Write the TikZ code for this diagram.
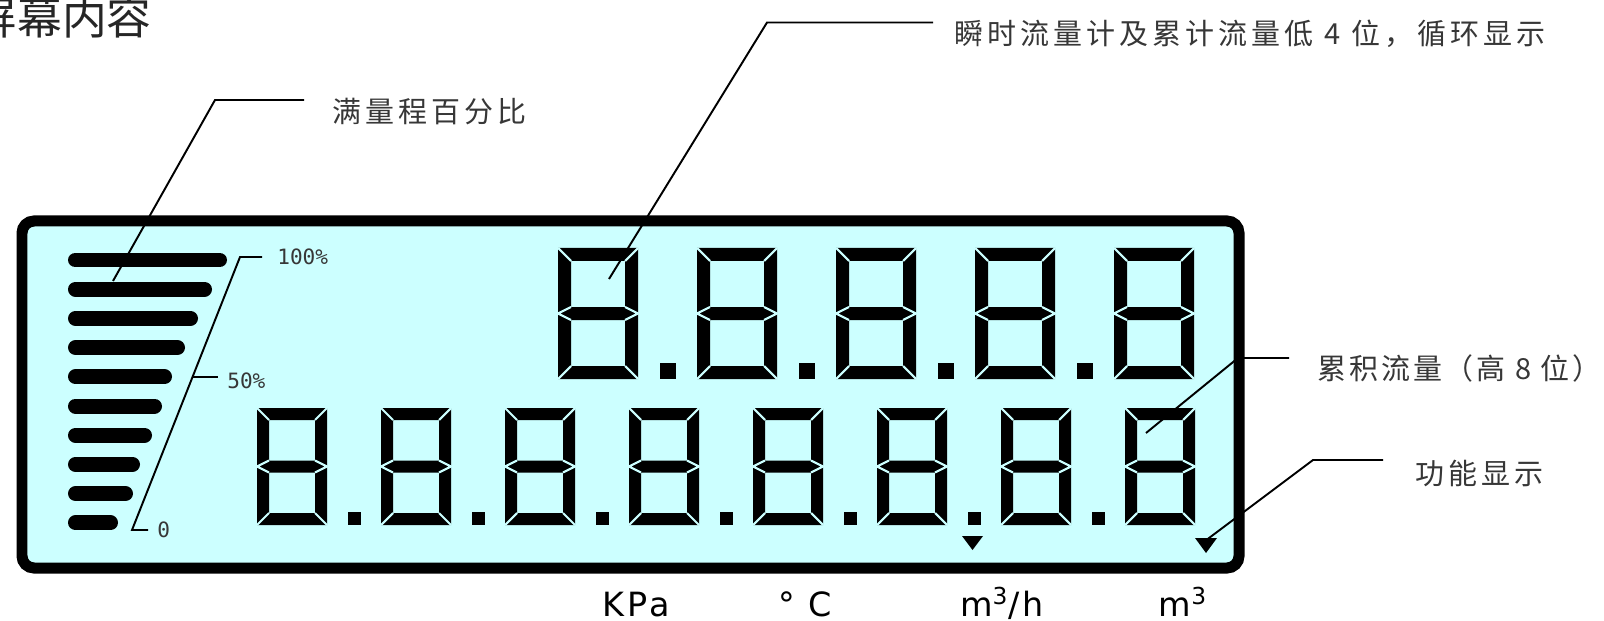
\documentclass[tikz,border=0pt]{standalone}
\usepackage{fontspec}
\setmainfont{DejaVu Sans}
\newfontfamily\cjk{Noto Sans CJK SC}
\newfontfamily\cjklbl[LetterSpace=14]{Noto Sans CJK SC}
\newfontfamily\cjktight[LetterSpace=10]{Noto Sans CJK SC}
\newfontfamily\unitfont[LetterSpace=10]{DejaVu Sans}
\newfontfamily\lcdmono{DejaVu Sans Mono}
\definecolor{lcdcyan}{RGB}{204,255,255}
\definecolor{lbltext}{RGB}{55,55,55}
\tikzset{
  lbl/.style={anchor=west,inner sep=0pt,text=lbltext,font=\cjklbl\fontsize{16.5}{18}\selectfont},
  unit/.style={anchor=base,inner sep=0pt,font=\unitfont\fontsize{19}{21}\selectfont},
  scl/.style={anchor=west,inner sep=0pt,text=lbltext,font=\lcdmono\fontsize{12}{12}\selectfont},
  leader/.style={line width=1.1pt},
  bar/.style={line width=0.3cm,line cap=round},
  seggap/.style={draw=lcdcyan,line width=1.2pt},
}

\begin{document}
\begin{tikzpicture}[x=0.02cm,y=-0.02cm]
\useasboundingbox (0,0) rectangle (1604,621);
% seven segment digit: x, y, width, height, stroke
\def\lcddigit#1#2#3#4#5{%
  \fill[even odd rule] (#1,#2) rectangle ++(#3,#4)
    ({#1+#5},{#2+#5}) rectangle ({#1+#3-#5},{#2+0.5*#4-0.5*#5})
    ({#1+#5},{#2+0.5*#4+0.5*#5}) rectangle ({#1+#3-#5},{#2+#4-#5});
  \draw[seggap] (#1,#2) -- ({#1+#5},{#2+#5})
    ({#1+#3},#2) -- ({#1+#3-#5},{#2+#5})
    (#1,{#2+#4}) -- ({#1+#5},{#2+#4-#5})
    ({#1+#3},{#2+#4}) -- ({#1+#3-#5},{#2+#4-#5})
    ({#1+#5},{#2+0.5*#4-0.5*#5}) -- (#1,{#2+0.5*#4}) -- ({#1+#5},{#2+0.5*#4+0.5*#5})
    ({#1+#3-#5},{#2+0.5*#4-0.5*#5}) -- ({#1+#3},{#2+0.5*#4}) -- ({#1+#3-#5},{#2+0.5*#4+0.5*#5});
}
% ================= title =================
\node[anchor=east,inner sep=0pt,text=black!85,font=\cjk\fontsize{25.5}{28}\selectfont] (title) at (152,17) {屏幕内容};
% ================= LCD panel =================
\draw[line width=0.22cm,fill=lcdcyan,rounded corners=0.24cm] (22,221) rectangle (1239,568);
% percentage bars
\foreach \n/\r in {0/219.5,1/204.5,2/190.5,3/177.5,4/164.5,5/154.5,6/144.5,7/132.5,8/125.5,9/110.5}{
  \pgfmathsetmacro\y{260+\n*29.2}
  \draw[bar] (75.5,\y) -- (\r,\y);
}
% scale
\draw[line width=1.1pt] (148,530) -- (132,530) -- (240,257) -- (262,257);
\draw[line width=1.1pt] (192.5,377) -- (218,377);
\node[scl] (p100) at (277,257) {100\%};
\node[scl] (p50) at (227,381) {50\%};
\node[scl] (p0) at (157,530) {0};
% upper row: 5 digits
\foreach \n in {0,...,4}{
  \pgfmathsetmacro\x{558+\n*139}
  \lcddigit{\x}{248}{80}{131}{13}
}
\foreach \n in {0,...,3}{
  \pgfmathsetmacro\x{660+\n*139}
  \fill (\x,363) rectangle ++(16,16);
}
% lower row: 8 digits
\foreach \n in {0,...,7}{
  \pgfmathsetmacro\x{257+\n*124}
  \lcddigit{\x}{408}{70}{117}{12}
}
\foreach \n in {0,...,6}{
  \pgfmathsetmacro\x{348+\n*124}
  \fill (\x,512) rectangle ++(13,13);
}
% unit markers
\fill (962,536) -- (983,536) -- (972.5,550) -- cycle;
\fill (1195,538) -- (1217,538) -- (1206,553) -- cycle;
% ================= units =================
\node[unit] (kpa) at (636,616) {KPa};
\node[unit] (degc) at (805,616) {° C};
\node[unit] (rate) at (1002,616) {m\textsuperscript{3}/h};
\node[unit] (vol) at (1183,616) {m\textsuperscript{3}};
% ================= callouts =================
\node[lbl] (pct) at (332,112) {满量程百分比};
\node[lbl] (flow) at (954,34) {瞬时流量计及累计流量低 4 位，循环显示};
\node[lbl,font=\cjktight\fontsize{16.5}{18}\selectfont] (total) at (1317,368) {累积流量（高 8 位）};
\node[lbl] (func) at (1415,473) {功能显示};
\coordinate (pctbend) at (215,100);
\coordinate (pcttip) at (113,281);
\coordinate (flowbend) at (767,22.5);
\coordinate (flowtip) at (609,279);
\coordinate (totalbend) at (1238,358);
\coordinate (totaltip) at (1146,433);
\coordinate (funcbend) at (1313,460);
\coordinate (functip) at (1205,541);
\draw[leader] ([shift={(-28,-12)}]pct.west) -- (pctbend) -- (pcttip);
\draw[leader] ([shift={(-21,-11.5)}]flow.west) -- (flowbend) -- (flowtip);
\draw[leader] ([shift={(-28,-10)}]total.west) -- (totalbend) -- (totaltip);
\draw[leader] ([shift={(-32,-13)}]func.west) -- (funcbend) -- (functip);
\end{tikzpicture}
\end{document}
